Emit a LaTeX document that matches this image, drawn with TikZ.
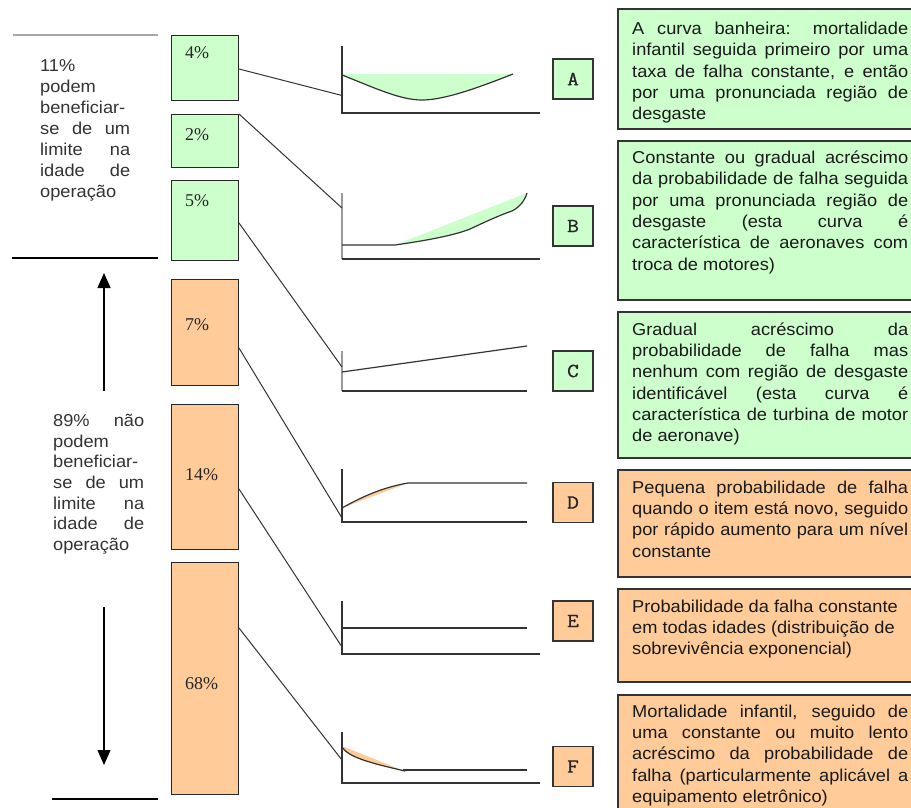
\documentclass[tikz,border=0pt]{standalone}
\usepackage{fontspec}
\setmainfont{Liberation Sans}
\newfontfamily\descfont[FakeStretch=1.06]{Liberation Sans}
\newfontfamily\pctfont{Liberation Serif}
\newfontfamily\letterfont[FakeStretch=1.15,FakeBold=0.8]{Latin Modern Mono}
\usetikzlibrary{arrows.meta,calc}
\definecolor{mintfill}{HTML}{CCFFCC}
\definecolor{peachfill}{HTML}{FFCC99}
\definecolor{inkline}{HTML}{333333}
\definecolor{textink}{HTML}{1A1A1A}
\definecolor{axisgray}{HTML}{9A9A9A}
\hbadness=10000
\tikzset{
  pctbox/.style={draw=black!85, line width=1bp, anchor=north west, minimum width=67bp, inner sep=0pt},
  pcttext/.style={anchor=base west, inner sep=0pt, font=\pctfont\fontsize{18bp}{20bp}\selectfont, text=black!85},
  letterbox/.style={draw=inkline, line width=1.2bp, minimum width=40bp, minimum height=40bp, inner sep=0pt,
    font=\letterfont\fontsize{20bp}{22bp}\selectfont, text=black!85},
  descbox/.style={draw=inkline, line width=1.6bp, anchor=north west, minimum width=308bp, inner sep=0pt},
  desctext/.style={anchor=north west, inner sep=0pt, text width=276bp, align=justify, text=textink,
    font=\descfont\fontsize{17.2bp}{21.3bp}\selectfont},
  sidetext/.style={anchor=north west, inner sep=0pt, align=justify, text=inkline,
    font=\descfont\fontsize{17.2bp}{21bp}\selectfont},
  connector/.style={draw=inkline, line width=1bp},
  axis/.style={draw=inkline, line width=1.3bp},
  softaxis/.style={draw=axisgray, line width=1.6bp},
  curve/.style={draw=inkline, line width=1.2bp},
  bigarrow/.style={draw=black, line width=1.3bp, -{Triangle[width=13bp,length=15bp]}}
}
\begin{document}
\begin{tikzpicture}[x=1bp,y=-1bp]
\useasboundingbox (0,0) rectangle (911,808);
\fill[white] (0,0) rectangle (911,808);

% ---------- left column: separators, arrows and captions ----------
\draw[draw=black!35, line width=2bp] (13,35) -- (158,35);
\draw[draw=black, line width=1.1bp] (12,258) -- (158,258);
\draw[draw=black, line width=1.1bp] (52,799) -- (158,799);

\coordinate (upfrom) at (104,391);
\coordinate (upto) at (104,273);
\coordinate (downfrom) at (104,607);
\coordinate (downto) at (104,765);
\draw[bigarrow] (upfrom) -- (upto);
\draw[bigarrow] (downfrom) -- (downto);

\node[sidetext, text width=90bp] (capone) at (40,57) {\strut 11\%\\podem\\beneficiar-\\se de um\linebreak limite na\linebreak idade de\linebreak operação};
\node[sidetext, text width=91bp, font=\descfont\fontsize{17.2bp}{20.6bp}\selectfont] (captwo) at (53,412) {\strut 89\% não\linebreak podem\\beneficiar-\\se de um\linebreak limite na\linebreak idade de\linebreak operação};

% ---------- percentage bars ----------
\node[pctbox, fill=mintfill, minimum height=65bp] (p4) at (171,35) {};
\node[pctbox, fill=mintfill, minimum height=53bp] (p2) at (171,114) {};
\node[pctbox, fill=mintfill, minimum height=80bp] (p5) at (171,180) {};
\node[pctbox, fill=peachfill, minimum height=106bp] (p7) at (171,279) {};
\node[pctbox, fill=peachfill, minimum height=145bp] (p14) at (171,404) {};
\node[pctbox, fill=peachfill, minimum height=232bp] (p68) at (171,562) {};

\node[pcttext] (p4t) at (185,59) {4\%};
\node[pcttext] (p2t) at (185,140) {2\%};
\node[pcttext] (p5t) at (185,206) {5\%};
\node[pcttext] (p7t) at (185,330) {7\%};
\node[pcttext] (p14t) at (185,480) {14\%};
\node[pcttext] (p68t) at (185,689) {68\%};

% ---------- failure-pattern charts ----------
% A: bathtub curve
\fill[mintfill] (342,74) -- (513,74) .. controls (480,87) and (445,100) .. (422,100)
  .. controls (400,100) and (375,88) .. (342,75) -- cycle;
\draw[axis] (342,46) -- (342,113) -- (540,113);
\draw[curve] (342,75) .. controls (375,88) and (400,100) .. (422,100)
  .. controls (445,100) and (480,87) .. (513,74);
\coordinate (ea) at (342,95.5);

% B: constant, then wear-out
\fill[mintfill] (395,245) -- (527,193) .. controls (525,200) and (520,207) .. (512,211)
  .. controls (500,215) and (485,222) .. (470,229)
  .. controls (455,235) and (430,240) .. (395,245) -- cycle;
\draw[softaxis] (342,193) -- (342,259);
\draw[axis] (342,259) -- (540,259);
\draw[curve] (342,245) -- (395,245) .. controls (430,240) and (455,235) .. (470,229)
  .. controls (485,222) and (500,215) .. (512,211)
  .. controls (520,207) and (525,200) .. (527,193);
\coordinate (eb) at (342,208);

% C: gradual increase
\draw[softaxis] (342,351) -- (342,391);
\draw[axis] (342,391) -- (527,391);
\draw[curve] (342,372) -- (527,346);
\coordinate (ec) at (342,367);

% D: low when new, rising to a constant level
\fill[peachfill] (342,508) .. controls (365,495) and (385,487) .. (408,483) -- cycle;
\draw[axis] (342,469) -- (342,522) -- (527,522);
\draw[curve] (342,508) .. controls (365,495) and (385,487) .. (408,483) -- (527,483);
\coordinate (ed) at (342,518);

% E: constant
\draw[axis] (342,601) -- (342,654) -- (540,654);
\draw[curve] (342,628) -- (527,628);
\coordinate (ee) at (342,647);

% F: infant mortality, then constant
\fill[peachfill] (342,746) -- (408,772.5) -- (405,771)
  .. controls (370,763) and (348,757) .. (342,747) -- cycle;
\draw[axis] (342,732) -- (342,783) -- (540,783);
\draw[curve] (342,747) .. controls (348,757) and (370,763) .. (405,771);
\draw[curve] (403,770) -- (527,770);
\coordinate (ef) at (342,760);

% ---------- connectors from bars to charts ----------
\draw[connector] ($(p4.north east)+(0,34)$) -- (ea);
\draw[connector] (p2.north east) -- (eb);
\draw[connector] ($(p5.north east)+(0,43)$) -- (ec);
\draw[connector] ($(p7.north east)+(0,69)$) -- (ed);
\draw[connector] ($(p14.north east)+(0,85)$) -- (ee);
\draw[connector] ($(p68.north east)+(0,66)$) -- (ef);

% ---------- pattern letters ----------
\node[letterbox, fill=mintfill] (la) at (573,79) {A};
\node[letterbox, fill=mintfill] (lb) at (573,226) {B};
\node[letterbox, fill=mintfill] (lc) at (573,371) {C};
\node[letterbox, fill=peachfill] (ld) at (573,502.5) {D};
\node[letterbox, fill=peachfill] (le) at (573,621) {E};
\node[letterbox, fill=peachfill] (lf) at (573,766.5) {F};

% ---------- descriptions ----------
\node[descbox, fill=mintfill, minimum height=120bp] (da) at (617,8) {};
\node[descbox, fill=mintfill, minimum height=159bp] (db) at (617,140) {};
\node[descbox, fill=mintfill, minimum height=146bp] (dc) at (617,311) {};
\node[descbox, fill=peachfill, minimum height=107bp] (dd) at (617,469) {};
\node[descbox, fill=peachfill, minimum height=93bp] (de) at (617,588) {};
\node[descbox, fill=peachfill, minimum height=140bp] (df) at (617,694) {};

\node[desctext] (ta) at (632,19.5) {\strut A curva banheira: mortalidade\linebreak infantil seguida primeiro por uma\linebreak taxa de falha constante, e então\linebreak por uma pronunciada região de\linebreak desgaste};
\node[desctext] (tb) at (632,148.5) {\strut Constante ou gradual acréscimo\linebreak da probabilidade de falha seguida\linebreak por uma pronunciada região de\linebreak desgaste (esta curva é\linebreak característica de aeronaves com\linebreak troca de motores)};
\node[desctext] (tc) at (632,320) {\strut Gradual acréscimo da\linebreak probabilidade de falha mas\linebreak nenhum com região de desgaste\linebreak identificável (esta curva é\linebreak característica de turbina de motor\linebreak de aeronave)};
\node[desctext] (td) at (632,478) {\strut Pequena probabilidade de falha\linebreak quando o item está novo, seguido\linebreak por rápido aumento para um nível\linebreak constante};
\node[desctext] (te) at (632,597) {\strut Probabilidade da falha constante\\em todas idades (distribuição de\\sobrevivência exponencial)};
\node[desctext] (tf) at (632,702) {\strut Mortalidade infantil, seguido de\linebreak uma constante ou muito lento\linebreak acréscimo da probabilidade de\linebreak falha (particularmente aplicável a\linebreak equipamento eletrônico)};
\end{tikzpicture}
\end{document}
